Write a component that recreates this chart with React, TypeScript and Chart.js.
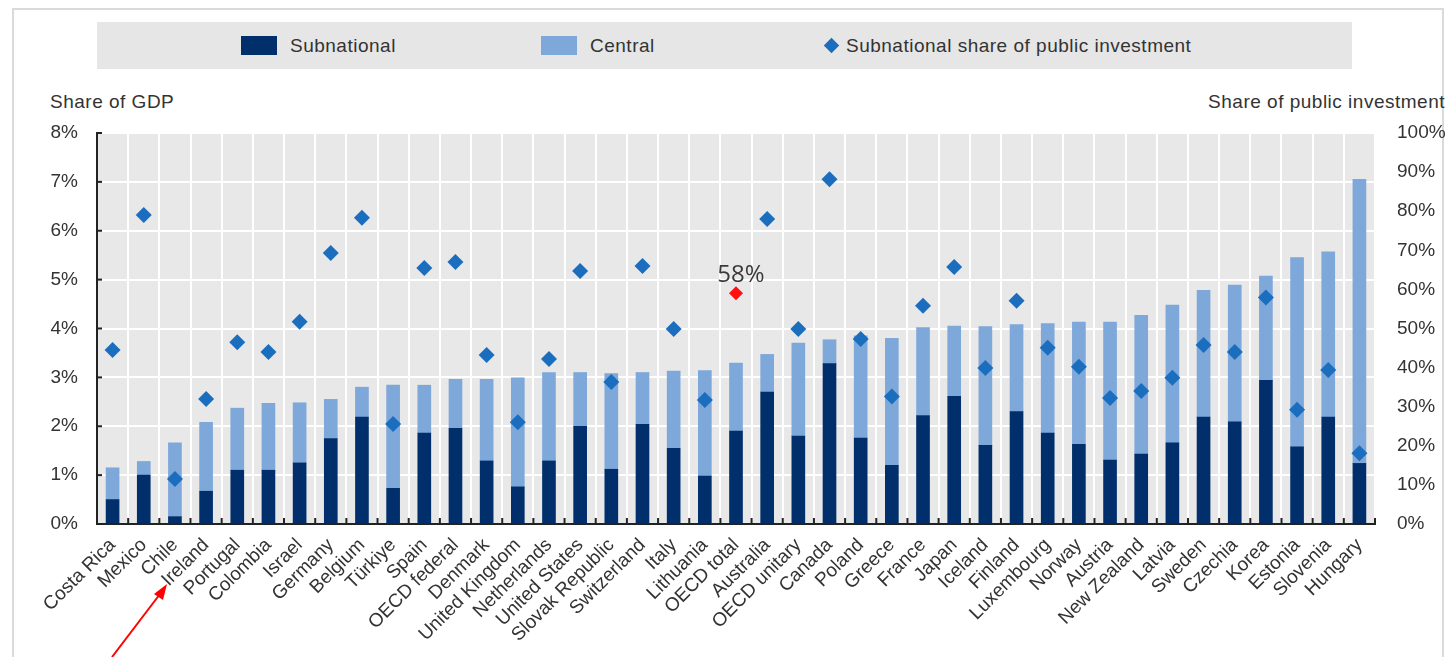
import React, { useEffect, useRef } from "react";
import { Chart, registerables } from "chart.js";

Chart.register(...registerables);

const categories = [
  "Costa Rica", "Mexico", "Chile", "Ireland", "Portugal", "Colombia", "Israel", "Germany",
  "Belgium", "Türkiye", "Spain", "OECD federal", "Denmark", "United Kingdom", "Netherlands",
  "United States", "Slovak Republic", "Switzerland", "Italy", "Lithuania", "OECD total",
  "Australia", "OECD unitary", "Canada", "Poland", "Greece", "France", "Japan", "Iceland",
  "Finland", "Luxembourg", "Norway", "Austria", "New Zealand", "Latvia", "Sweden", "Czechia",
  "Korea", "Estonia", "Slovenia", "Hungary",
];

// Share of GDP (%)
const subnational = [
  0.5, 1.0, 0.15, 0.67, 1.1, 1.1, 1.25, 1.75, 2.19, 0.73, 1.86, 1.96, 1.29, 0.76, 1.29,
  2.0, 1.12, 2.04, 1.55, 0.98, 1.9, 2.7, 1.8, 3.28, 1.76, 1.2, 2.22, 2.61, 1.61, 2.3,
  1.86, 1.63, 1.31, 1.43, 1.66, 2.19, 2.09, 2.94, 1.58, 2.19, 1.24,
];
const central = [
  0.65, 0.28, 1.51, 1.41, 1.27, 1.37, 1.23, 0.8, 0.61, 2.11, 0.98, 1.0, 1.67, 2.23, 1.81,
  1.1, 1.96, 1.06, 1.58, 2.16, 1.39, 0.77, 1.9, 0.49, 2.09, 2.6, 1.8, 1.44, 2.43, 1.78,
  2.24, 2.5, 2.82, 2.84, 2.82, 2.59, 2.8, 2.13, 3.87, 3.38, 5.81,
];
// Subnational share of public investment (%)
const subnationalShare = [
  44.5, 79, 11.5, 32, 46.5, 44, 51.7, 69.3, 78.3, 25.6, 65.5, 67, 43.2, 26, 42.2,
  64.7, 36.3, 66, 49.9, 31.7, 59, 78, 49.9, 88.2, 47.3, 32.6, 55.8, 65.7, 39.9, 57.1,
  45.1, 40.2, 32.2, 34, 37.4, 45.8, 44, 57.9, 29.2, 39.4, 18.1,
];
const highlightCategory = "OECD total";
const highlightLabel = "58%";

const leftAxis = { min: 0, max: 8, step: 1 };
const rightAxis = { min: 0, max: 100, step: 10 };

const DARK = "#002F6C";
const LIGHT = "#7EA7DA";
const DIAMOND = "#1B6EBE";
const RED = "#FF1010";
const FONT = "'Liberation Sans', Arial, sans-serif";
const TEXT = "#333333";

const decorPlugin = {
  id: "decor",
  beforeDraw(chart: any) {
    const { ctx, chartArea } = chart;
    ctx.save();
    ctx.fillStyle = "#E8E8E8";
    ctx.fillRect(chartArea.left, chartArea.top, chartArea.right - chartArea.left, chartArea.bottom - chartArea.top);
    ctx.restore();
  },
  afterDatasetsDraw(chart: any) {
    const { ctx, chartArea } = chart;
    const x = chart.scales.x;
    const y = chart.scales.y;
    ctx.save();
    ctx.strokeStyle = "#222";
    ctx.lineWidth = 2;
    // bottom inner tick marks at category boundaries
    for (let i = 0; i <= categories.length; i++) {
      const px = i < categories.length
        ? x.getPixelForValue(i) - (x.getPixelForValue(1) - x.getPixelForValue(0)) / 2
        : chartArea.right;
      ctx.beginPath();
      ctx.moveTo(px, chartArea.bottom);
      ctx.lineTo(px, chartArea.bottom - 6);
      ctx.stroke();
    }
    // left inner tick marks
    for (let v = leftAxis.min; v <= leftAxis.max; v += leftAxis.step) {
      const py = y.getPixelForValue(v);
      ctx.beginPath();
      ctx.moveTo(chartArea.left, py);
      ctx.lineTo(chartArea.left + 5, py);
      ctx.stroke();
    }
    // highlight label
    const meta = chart.getDatasetMeta(2);
    const idx = categories.indexOf(highlightCategory);
    const pt = meta.data[idx];
    if (pt) {
      ctx.fillStyle = "#3a3a3a";
      ctx.font = "24px 'Open Sans', sans-serif";
      ctx.textAlign = "center";
      ctx.textBaseline = "alphabetic";
      ctx.fillText(highlightLabel, pt.x + 5, pt.y - 11);
    }
    ctx.restore();
  },
};

export default function App() {
  const canvasRef = useRef<HTMLCanvasElement | null>(null);

  useEffect(() => {
    document.body.style.margin = "0";
    const canvas = canvasRef.current;
    if (!canvas) return;
    const hi = categories.indexOf(highlightCategory);
    const chart = new Chart(canvas, {
      type: "bar",
      data: {
        labels: categories,
        datasets: [
          {
            type: "bar",
            label: "Subnational",
            data: subnational,
            backgroundColor: DARK,
            barThickness: 13,
            yAxisID: "y",
            stack: "s",
            order: 2,
          },
          {
            type: "bar",
            label: "Central",
            data: central,
            backgroundColor: LIGHT,
            barThickness: 13,
            yAxisID: "y",
            stack: "s",
            order: 2,
          },
          {
            type: "line",
            label: "Subnational share of public investment",
            data: subnationalShare,
            yAxisID: "y1",
            showLine: false,
            pointStyle: "rectRot",
            pointRadius: categories.map((_, i) => (i === hi ? 7 : 8)),
            pointBackgroundColor: categories.map((_, i) => (i === hi ? RED : DIAMOND)),
            pointBorderWidth: 0,
            pointBorderColor: "transparent",
            order: 0,
          } as any,
        ],
      },
      options: {
        animation: false,
        responsive: true,
        maintainAspectRatio: false,
        layout: { padding: { top: 133, left: 0, right: 0, bottom: 0 } },
        plugins: { legend: { display: false }, tooltip: { enabled: false } },
        scales: {
          x: {
            stacked: true,
            afterFit: (s: any) => { s.height = 133; },
            grid: { color: "#FFFFFF", lineWidth: 2, drawTicks: false, offset: true },
            border: { color: "#222", width: 2 },
            ticks: {
              autoSkip: false,
              maxRotation: 45,
              minRotation: 45,
              padding: 10,
              color: TEXT,
              font: { family: FONT, size: 19 },
            },
          },
          y: {
            stacked: true,
            position: "left",
            min: leftAxis.min,
            max: leftAxis.max,
            afterFit: (s: any) => { s.width = 97; },
            grid: { color: "#FFFFFF", lineWidth: 2, drawTicks: false },
            border: { color: "#222", width: 2 },
            ticks: {
              stepSize: leftAxis.step,
              padding: 19,
              color: TEXT,
              font: { family: FONT, size: 19 },
              callback: (v: any) => `${v}%`,
            },
          },
          y1: {
            position: "right",
            min: rightAxis.min,
            max: rightAxis.max,
            afterFit: (s: any) => { s.width = 78; },
            grid: { display: false, drawTicks: false },
            border: { display: false },
            ticks: {
              stepSize: rightAxis.step,
              padding: 22,
              color: TEXT,
              font: { family: FONT, size: 19 },
              callback: (v: any) => `${v}%`,
            },
          },
        },
      },
      plugins: [decorPlugin],
    });
    return () => chart.destroy();
  }, []);

  const textStyle: React.CSSProperties = {
    position: "absolute",
    fontFamily: FONT,
    fontSize: 19,
    letterSpacing: "0.5px",
    color: TEXT,
    whiteSpace: "nowrap",
    lineHeight: "20px",
  };

  return (
    <div style={{ position: "absolute", left: 0, top: 0, width: 1453, height: 657, background: "#fff", overflow: "hidden" }}>
      <div style={{ position: "absolute", left: 12, top: 8, width: 1428, height: 700, border: "2px solid #DADADA" }} />
      <div style={{ position: "absolute", left: 97, top: 22, width: 1255, height: 47, background: "#E6E6E6" }} />
      <div style={{ position: "absolute", left: 241, top: 36, width: 36, height: 19, background: DARK }} />
      <div style={{ ...textStyle, left: 290, top: 36 }}>Subnational</div>
      <div style={{ position: "absolute", left: 541, top: 36, width: 36, height: 19, background: LIGHT }} />
      <div style={{ ...textStyle, left: 590, top: 36 }}>Central</div>
      <div style={{ position: "absolute", left: 826, top: 40, width: 11, height: 11, background: DIAMOND, transform: "rotate(45deg)" }} />
      <div style={{ ...textStyle, left: 846, top: 36 }}>Subnational share of public investment</div>
      <div style={{ ...textStyle, left: 50, top: 92 }}>Share of GDP</div>
      <div style={{ ...textStyle, right: 8, top: 92 }}>Share of public investment</div>
      <canvas ref={canvasRef} style={{ position: "absolute", left: 0, top: 0, width: 1453, height: 657 }} />
      <svg width={1453} height={657} style={{ position: "absolute", left: 0, top: 0, pointerEvents: "none" }}>
        <line x1={112} y1={657} x2={160} y2={594} stroke="#FF0000" strokeWidth={2} />
        <polygon points="167,584 154,594 163,600" fill="#FF0000" />
      </svg>
    </div>
  );
}
